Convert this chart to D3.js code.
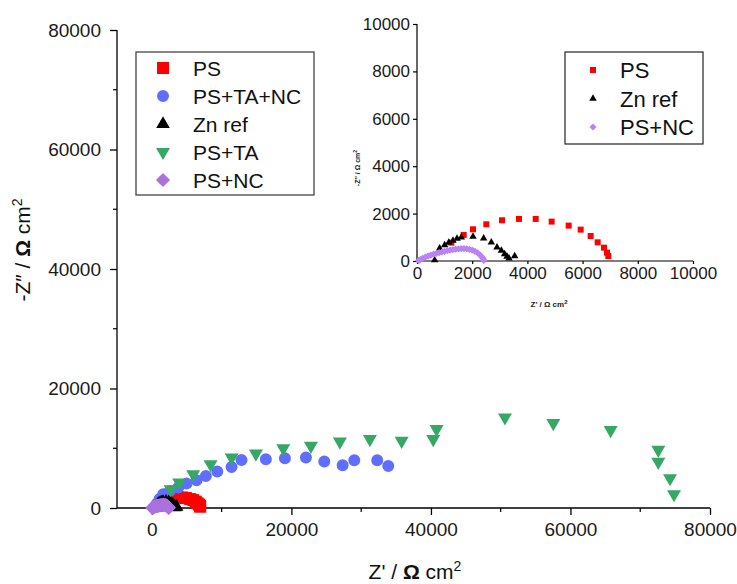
<!DOCTYPE html>
<html><head><meta charset="utf-8">
<script src="https://cdn.jsdelivr.net/npm/d3@7"></script>
<style>
body{margin:0;background:#fff;}
svg{font-family:"Liberation Sans",Arial,sans-serif;}
</style></head>
<body>
<svg id="c" width="737" height="584"></svg>
<script>
// ---------- data ----------
const seriesNames = ["PS", "PS+TA+NC", "Zn ref", "PS+TA", "PS+NC"];
const insetNames = ["PS", "Zn ref", "PS+NC"];

const psX = [1244, 1691, 2029, 2512, 3080, 3696, 4300, 4879, 5495, 5930, 6292, 6546, 6775, 6884, 6932];
const psY = [775, 1099, 1338, 1549, 1718, 1775, 1775, 1662, 1493, 1324, 1056, 789, 563, 352, 211];

const tancX = [700, 1100, 1625, 2580, 3770, 4970, 6400, 7740, 9370, 11420, 12850, 16340, 19070, 22080, 24710, 27340, 29010, 32300, 33880];
const tancY = [700, 1500, 2290, 2850, 3410, 4080, 4640, 5370, 6100, 6880, 8050, 8160, 8330, 8440, 7770, 7160, 8000, 8000, 7040];

const znX = [640, 821, 1002, 1150, 1304, 1450, 1606, 2029, 2415, 2693, 2899, 3056, 3176, 3261, 3333, 3539];
const znY = [42, 535, 676, 780, 859, 950, 1000, 1028, 958, 789, 577, 437, 296, 183, 113, 211];

const taX = [2680, 3917, 5921, 8410, 11430, 14910, 18830, 22800, 26950, 31250, 35800, 40330, 40810, 50610, 57540, 65760, 72590, 72590, 74270, 74840];
const taY = [3136, 4240, 5646, 7324, 8440, 9110, 10000, 10400, 11120, 11520, 11230, 11520, 13200, 15150, 14200, 13030, 9730, 7715, 4980, 2300];

const ncX = [60, 120, 200, 300, 400, 500, 600, 700, 800, 900, 1000, 1100, 1200, 1300, 1400, 1500, 1600, 1700, 1800, 1900, 2000, 2100, 2200, 2300, 2350, 2400, 2420];
const ncY = [20, 60, 110, 160, 210, 250, 290, 320, 350, 380, 410, 440, 460, 480, 500, 510, 520, 520, 510, 490, 460, 410, 340, 240, 170, 90, 30];

const mainXTicks = [0, 20000, 40000, 60000, 80000];
const mainXMinor = [10000, 30000, 50000, 70000];
const mainYTicks = [0, 20000, 40000, 60000, 80000];
const mainYMinor = [10000, 30000, 50000, 70000];
const insetTicks = [0, 2000, 4000, 6000, 8000, 10000];

// ---------- styles ----------
const colors = {"PS":"#ff0000","PS+TA+NC":"#5f6eff","Zn ref":"#000000","PS+TA":"#35a865","PS+NC":"#ab72dd"};
const insetColors = {"PS":"#ff0000","Zn ref":"#000000","PS+NC":"#b983f5"};
const shapes = {"PS":[d3.symbolSquare,0],"PS+TA+NC":[d3.symbolCircle,0],"Zn ref":[d3.symbolTriangle,0],"PS+TA":[d3.symbolTriangle,180],"PS+NC":[d3.symbolSquare,45]};
const bigSize = {"PS":144,"PS+TA+NC":113,"Zn ref":80,"PS+TA":85,"PS+NC":100};
const smallSize = {"PS":36,"Zn ref":24,"PS+NC":26};

const data = {
  "PS": psX.map((x,i)=>({x, y:psY[i]})),
  "PS+TA+NC": tancX.map((x,i)=>({x, y:tancY[i]})),
  "Zn ref": znX.map((x,i)=>({x, y:znY[i]})),
  "PS+TA": taX.map((x,i)=>({x, y:taY[i]})),
  "PS+NC": ncX.map((x,i)=>({x, y:ncY[i]}))
};

const svg = d3.select("#c");

// ---------- main plot ----------
const x = d3.scaleLinear().domain([-5000, 80000]).range([117, 710]);
const y = d3.scaleLinear().domain([0, 80000]).range([508, 30]);

const gx = svg.append("g").attr("transform", `translate(0,${y(0)})`)
  .call(d3.axisBottom(x).tickValues(mainXTicks).tickSize(7).tickPadding(8).tickFormat(d3.format("d")));
gx.append("g").selectAll("line").data(mainXMinor).join("line")
  .attr("x1", d=>x(d)).attr("x2", d=>x(d)).attr("y1", 0).attr("y2", 4).attr("stroke","#000").attr("stroke-width",1.2);
gx.select(".domain").attr("d", `M${x.range()[0]},0H${x.range()[1]}`);

const gy = svg.append("g").attr("transform", `translate(${x(-5000)},0)`)
  .call(d3.axisLeft(y).tickValues(mainYTicks).tickSize(7).tickPadding(9).tickFormat(d3.format("d")));
gy.append("g").selectAll("line").data(mainYMinor).join("line")
  .attr("y1", d=>y(d)).attr("y2", d=>y(d)).attr("x1", 0).attr("x2", -4).attr("stroke","#000").attr("stroke-width",1.2);
gy.select(".domain").attr("d", `M0,${y.range()[0]}V${y.range()[1]}`);

[gx, gy].forEach(g => {
  g.selectAll(".domain,.tick line").attr("stroke","#000").attr("stroke-width",1.3);
  g.selectAll("text").attr("font-size",19).attr("fill","#1a1a1a").attr("font-family","Liberation Sans, Arial, sans-serif");
});

function sym(name, size) {
  return d3.symbol().type(shapes[name][0]).size(size)();
}

const plot = svg.append("g");
seriesNames.forEach(name => {
  plot.append("g").selectAll("path").data(data[name]).join("path")
    .attr("d", sym(name, bigSize[name]))
    .attr("transform", d => `translate(${x(d.x)},${y(d.y)}) rotate(${shapes[name][1]})`)
    .attr("fill", colors[name]);
});

// axis titles
svg.append("text").attr("x", 415).attr("y", 579).attr("text-anchor","middle")
  .attr("font-size", 21).attr("fill","#111")
  .html(`Z' / <tspan font-weight="bold">Ω</tspan> cm<tspan font-size="14" dy="-8">2</tspan>`);
svg.append("text").attr("transform","translate(30,250) rotate(-90)").attr("text-anchor","middle")
  .attr("font-size", 21).attr("fill","#111")
  .html(`-Z″ / <tspan font-weight="bold">Ω</tspan> cm<tspan font-size="14" dy="-8">2</tspan>`);

// main legend
const lg = svg.append("g");
lg.append("rect").attr("x",136).attr("y",52).attr("width",178).attr("height",143)
  .attr("fill","#fff").attr("stroke","#444").attr("stroke-width",1.3);
seriesNames.forEach((name,i) => {
  const yy = 68 + i*28;
  lg.append("path").attr("d", sym(name, bigSize[name]))
    .attr("transform", `translate(163,${yy}) rotate(${shapes[name][1]})`).attr("fill", colors[name]);
  lg.append("text").attr("x",193).attr("y",yy+7.5).attr("font-size",21).attr("fill","#111").text(name);
});

// ---------- inset ----------
const ix = d3.scaleLinear().domain([0, 10000]).range([417, 693]);
const iy = d3.scaleLinear().domain([0, 10000]).range([261, 24]);

const igx = svg.append("g").attr("transform", `translate(0,${iy(0)})`)
  .call(d3.axisBottom(ix).tickValues(insetTicks).tickSize(3).tickPadding(3).tickFormat(d3.format("d")));
igx.select(".domain").attr("d", `M${ix.range()[0]},0H${ix.range()[1]}`);
const igy = svg.append("g").attr("transform", `translate(${ix(0)},0)`)
  .call(d3.axisLeft(iy).tickValues(insetTicks).tickSize(4).tickPadding(3).tickFormat(d3.format("d")));
igy.select(".domain").attr("d", `M0,${iy.range()[0]}V${iy.range()[1]}`);
[igx, igy].forEach(g => {
  g.selectAll(".domain,.tick line").attr("stroke","#000").attr("stroke-width",1.2);
  g.selectAll("text").attr("font-size",17).attr("fill","#1a1a1a").attr("font-family","Liberation Sans, Arial, sans-serif");
});

const inset = svg.append("g");
insetNames.forEach(name => {
  inset.append("g").selectAll("path").data(data[name]).join("path")
    .attr("d", sym(name, smallSize[name]))
    .attr("transform", d => `translate(${ix(d.x)},${iy(d.y)}) rotate(${shapes[name][1]})`)
    .attr("fill", insetColors[name]);
});

svg.append("text").attr("x", 549).attr("y", 307).attr("text-anchor","middle")
  .attr("font-size", 8).attr("font-weight","bold").attr("fill","#222")
  .html(`Z' / Ω cm<tspan font-size="6" dy="-3">2</tspan>`);
svg.append("text").attr("transform","translate(360,168) rotate(-90)").attr("text-anchor","middle")
  .attr("font-size", 7).attr("font-weight","bold").attr("fill","#222")
  .html(`-Z″ / Ω cm<tspan font-size="5" dy="-3">2</tspan>`);

// inset legend
const ilg = svg.append("g");
ilg.append("rect").attr("x",565).attr("y",52).attr("width",138).attr("height",92)
  .attr("fill","#fff").attr("stroke","#222").attr("stroke-width",1.2);
insetNames.forEach((name,i) => {
  const yy = 70 + i*28.5;
  ilg.append("path").attr("d", sym(name, smallSize[name]))
    .attr("transform", `translate(593,${yy}) rotate(${shapes[name][1]})`).attr("fill", insetColors[name]);
  ilg.append("text").attr("x",620).attr("y",yy+8).attr("font-size",22).attr("fill","#111").text(name);
});
</script>
</body></html>
